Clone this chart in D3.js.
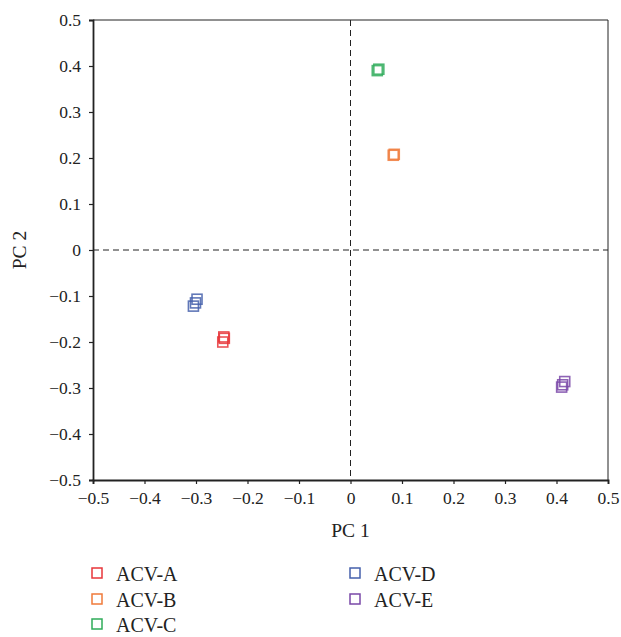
<!DOCTYPE html>
<html><head><meta charset="utf-8">
<script src="https://cdn.jsdelivr.net/npm/d3@7"></script>
<style>body{margin:0;background:#fff}</style>
</head><body>
<script>
const groups = ["ACV-A","ACV-B","ACV-C","ACV-D","ACV-E"];
const colors = ["#e8363a","#f07a3a","#2fac5a","#4560ac","#7a48a8"];
const pc1A = [-0.246,-0.248,-0.245]; const pc2A = [-0.189,-0.200,-0.192];
const pc1B = [0.085,0.083]; const pc2B = [0.208,0.206];
const pc1C = [0.055,0.052]; const pc2C = [0.393,0.390];
const pc1D = [-0.298,-0.301,-0.305]; const pc2D = [-0.107,-0.115,-0.122];
const pc1E = [0.416,0.412,0.410]; const pc2E = [-0.286,-0.293,-0.298];
const ticks = [-0.5,-0.4,-0.3,-0.2,-0.1,0,0.1,0.2,0.3,0.4,0.5];

const series = [[pc1A,pc2A],[pc1B,pc2B],[pc1C,pc2C],[pc1D,pc2D],[pc1E,pc2E]];
const W=621,H=637, L=93,R=608,T=20,B=480;
const svg=d3.select("body").append("svg").attr("width",W).attr("height",H)
  .style("font-family","'Liberation Serif','DejaVu Serif',serif");
const x=d3.scaleLinear().domain([-0.5,0.5]).range([L,R]);
const y=d3.scaleLinear().domain([-0.5,0.5]).range([B,T]);
const fmt=d=>d===0?"0":(d<0?"\u2212"+Math.abs(d).toFixed(1):d.toFixed(1));

// frame
svg.append("line").attr("x1",L).attr("x2",R).attr("y1",T).attr("y2",T).attr("stroke","#222").attr("stroke-width",1);
svg.append("line").attr("x1",R).attr("x2",R).attr("y1",T).attr("y2",B).attr("stroke","#222").attr("stroke-width",1);
// dashed zero lines
svg.append("line").attr("x1",x(0)).attr("x2",x(0)).attr("y1",T).attr("y2",B).attr("stroke","#222").attr("stroke-dasharray","6,4");
svg.append("line").attr("x1",L).attr("x2",R).attr("y1",y(0)).attr("y2",y(0)).attr("stroke","#222").attr("stroke-dasharray","6,4");

const gx=svg.append("g").attr("transform",`translate(0,${B})`)
  .call(d3.axisBottom(x).tickValues(ticks).tickFormat(fmt).tickSizeOuter(0).tickSize(4).tickPadding(8));
const gy=svg.append("g").attr("transform",`translate(${L},0)`)
  .call(d3.axisLeft(y).tickValues(ticks).tickFormat(fmt).tickSizeOuter(0).tickSize(4).tickPadding(8));
[gx,gy].forEach(g=>{
  g.selectAll("text").attr("font-size",17.5).attr("fill","#222").style("font-family","'Liberation Serif',serif");
  g.selectAll("line").attr("stroke","#222").attr("stroke-width",1.2);
  g.select(".domain").attr("stroke","#222").attr("stroke-width",1.8);
});

svg.append("text").attr("x",x(0)).attr("y",537).attr("text-anchor","middle").attr("font-size",19.5).attr("fill","#222").text("PC 1");
svg.append("text").attr("transform",`translate(26,${y(0)}) rotate(-90)`).attr("text-anchor","middle").attr("font-size",19.5).attr("fill","#222").text("PC 2");

const s=10;
series.forEach((sr,i)=>{
  const pts=sr[0].map((v,j)=>[v,sr[1][j]]);
  svg.append("g").selectAll("rect").data(pts).join("rect")
    .attr("x",d=>x(d[0])-s/2).attr("y",d=>y(d[1])-s/2).attr("width",s).attr("height",s)
    .attr("fill","none").attr("stroke",colors[i]).attr("stroke-width",1.6).attr("stroke-opacity",0.85);
});

// legend
const legPos=[[97,573],[97,599],[97,624],[355,573],[355,599]];
groups.forEach((g,i)=>{
  const [lx,ly]=legPos[i];
  svg.append("rect").attr("x",lx-5).attr("y",ly-5).attr("width",10).attr("height",10)
    .attr("fill","none").attr("stroke",colors[i]).attr("stroke-width",1.5);
  svg.append("text").attr("x",lx+19).attr("y",ly+7.5).attr("font-size",20).attr("fill","#222").text(g);
});
</script>
</body></html>
